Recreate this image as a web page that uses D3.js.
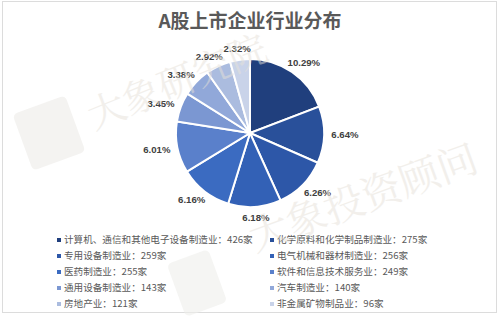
<!DOCTYPE html>
<html lang="zh">
<head>
<meta charset="UTF-8">
<title>A股上市企业行业分布</title>
<script src="https://d3js.org/d3.v7.min.js"></script>
<style>
    body { margin: 0; background: #fff; }
    svg { display: block; font-family: "Noto Sans CJK SC", "Liberation Sans", sans-serif; }
    .pct { font-family: "Liberation Sans", Arial, sans-serif; font-weight: bold; font-size: 9.6px; fill: #404040; }
    .leg { font-size: 9.6px; fill: #5a5a5a; }
    .wm { fill: #e6e1d8; opacity: 0.5; font-family: "Noto Serif CJK SC", "Noto Sans CJK SC", serif; }
</style>
</head>
<body>
<svg width="499" height="316"></svg>
<script>
    // data
    var industries = ["计算机、通信和其他电子设备制造业", "化学原料和化学制品制造业", "专用设备制造业",
        "电气机械和器材制造业", "医药制造业", "软件和信息技术服务业", "通用设备制造业",
        "汽车制造业", "房地产业", "非金属矿物制品业"];
    var companies = [426, 275, 259, 256, 255, 249, 143, 140, 121, 96];
    var shares = ["10.29%", "6.64%", "6.26%", "6.18%", "6.16%", "6.01%", "3.45%", "3.38%", "2.92%", "2.32%"];

    var colors = ["#203f7d", "#29509a", "#2d57a8", "#3361b6", "#3b6bc1", "#5a80cb",
        "#7b97d2", "#91a8d9", "#abbcdf", "#c9d3e9"];

    var svg = d3.select("svg"), width = 499, height = 316;
    var cx = 250, cy = 133, R = 74;

    // frame
    svg.append("rect").attr("x", 2.5).attr("y", 1.5).attr("width", 494).attr("height", 311)
        .attr("fill", "#fff").attr("stroke", "#dcdcdc").attr("stroke-width", 1);

    svg.append("text")
        .attr("x", cx).attr("y", 28)
        .attr("text-anchor", "middle")
        .attr("font-size", "19px").attr("font-weight", "bold").attr("fill", "#595959")
        .text("A股上市企业行业分布");

    var g = svg.append("g").attr("transform", "translate(" + cx + "," + cy + ")");
    var pie = d3.pie().sort(null).value(function(d) { return d; });
    var arcs = pie(companies);
    var arc = d3.arc().innerRadius(0).outerRadius(R);

    g.selectAll("path")
        .data(arcs)
        .enter().append("path")
        .attr("d", arc)
        .attr("fill", function(d, i) { return colors[i]; })
        .attr("stroke", "#fff")
        .attr("stroke-width", 2);

    // outside-end labels, box touching the circle
    g.selectAll(".pct")
        .data(arcs)
        .enter().append("text")
        .attr("class", "pct")
        .attr("text-anchor", "middle")
        .attr("dy", "0.35em")
        .attr("x", function(d) {
            var a = (d.startAngle + d.endAngle) / 2;
            return Math.sin(a) * (R + 5 + 16);
        })
        .attr("y", function(d) {
            var a = (d.startAngle + d.endAngle) / 2;
            return -Math.cos(a) * (R + 5 + 6);
        })
        .text(function(d, i) { return shares[i]; });

    // legend, two columns
    var legend = svg.append("g");
    var items = legend.selectAll("g")
        .data(industries)
        .enter().append("g")
        .attr("transform", function(d, i) {
            var col = i % 2, row = Math.floor(i / 2);
            return "translate(" + (col ? 270 : 57) + "," + (240 + row * 16) + ")";
        });
    items.append("rect")
        .attr("x", 0).attr("y", -2).attr("width", 4).attr("height", 4)
        .attr("fill", function(d, i) { return colors[i]; });
    items.append("text")
        .attr("class", "leg")
        .attr("x", 7).attr("dy", "0.36em")
        .text(function(d, i) { return d + "：" + companies[i] + "家"; });

    // watermark
    var wm = svg.append("g");
    wm.append("rect").attr("x", -28).attr("y", -30).attr("width", 56).attr("height", 60).attr("rx", 5)
        .attr("fill", "#efeeeb").attr("opacity", 0.7)
        .attr("transform", "translate(49,133) rotate(-20)");
    wm.append("rect").attr("x", -22).attr("y", -28).attr("width", 44).attr("height", 56).attr("rx", 5)
        .attr("fill", "#efeeeb").attr("opacity", 0.6)
        .attr("transform", "translate(197,283) rotate(-20)");
    wm.append("text").attr("class", "wm").attr("font-size", "38px")
        .attr("transform", "translate(94,130) rotate(-22)")
        .text("大象研究院");
    wm.append("text").attr("class", "wm").attr("font-size", "40px")
        .attr("transform", "translate(255,252) rotate(-20)")
        .text("大象投资顾问");
</script>
</body>
</html>
